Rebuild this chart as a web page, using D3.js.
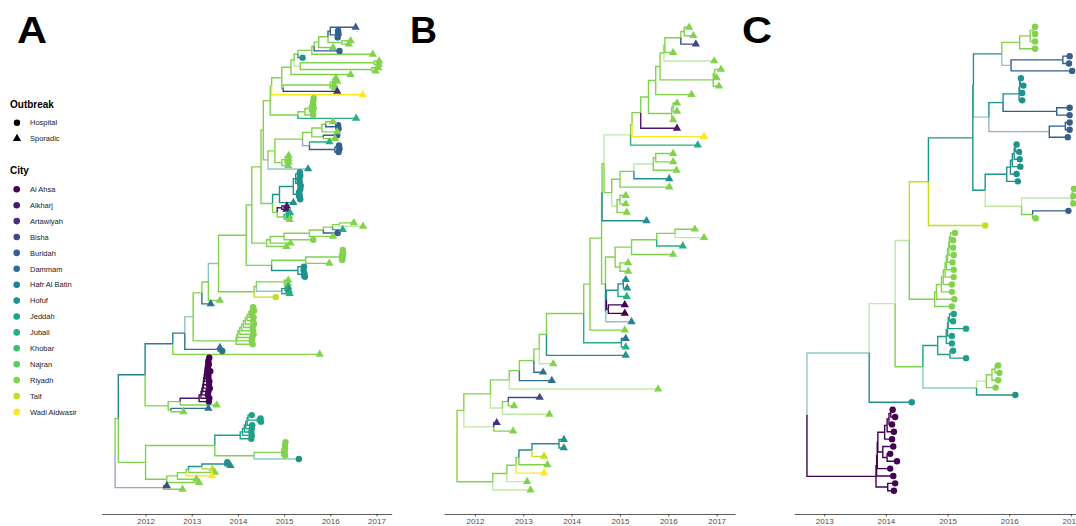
<!DOCTYPE html>
<html><head><meta charset="utf-8">
<script src="https://cdn.jsdelivr.net/npm/d3@7"></script>
<style>
body{margin:0;background:#fff}
svg{display:block}
text{font-family:"Liberation Sans",Arial,Helvetica,sans-serif}
</style>
</head><body>
<svg id="chart" width="1076" height="526"></svg>
<script>
// ---------------- data ----------------
const cities = ["Al Ahsa","Alkharj","Artawiyah","Bisha","Buridah","Dammam","Hafr Al Batin","Hofuf","Jeddah","Jubail","Khobar","Najran","Riyadh","Taif","Wadi Aldwasir"];
const cityCodes = ["AH","AK","AR","BI","BU","DA","HB","HO","JE","JU","KH","NA","RI","TA","WA"];
const outbreaks = ["Hospital","Sporadic"];
const yearTicksA = [2012,2013,2014,2015,2016,2017];
const yearTicksB = [2012,2013,2014,2015,2016,2017];
const yearTicksC = [2013,2014,2015,2016,2017];

// Trees: "(child,child)CITY:year" ; tips "CITY.outbreak:year" ; "*" = low-support (pale) branch
// ---- Panel A subtrees ----
const A_C1a = "(((BU.s:2016.55,((BU.h:2016.17,BU.h:2016.18)BU:2016.15,BU.h:2016.16)BU:2016.12)BU:2016.0,(RI.s:2016.44,RI.s:2016.4)RI:2016.25)RI:2015.95,RI.s:2016.06)RI:2015.75";
const A_C1 = `(((((${A_C1a},BU.h:2016.2)RI:2015.65,RI.s:2016.92)RI:2015.6,HO.h:2015.4)RI:2015.3,((RI.s:2017.06,RI.s:2017.05)RI:2016.95,(RI.s:2017.04,RI.s:2016.98)RI:2016.9)RI*:2015.35)RI:2015.22,RI.s:2016.44)RI:2015.15`;
const A_C2 = "((((RI.s:2016.12,RI.s:2016.15)RI:2016.1,RI.s:2016.08)RI:2016.05,RI.s:2016.1)RI:2016.0,AR.s:2016.15)RI:2014.98";
const A_C3 = "((((((RI.h:2015.64,RI.h:2015.63)RI:2015.61,RI.h:2015.63)RI:2015.6,RI.h:2015.64)RI:2015.58,RI.h:2015.62)RI:2015.55,RI.h:2015.63)RI:2015.45,JU.s:2016.56)RI:2015.3";
const A_U1 = `(((${A_C1},${A_C2})RI:2014.95,WA.s:2016.7)RI:2014.73,${A_C3})RI:2014.7`;
const A_C4a = "(((RI.s:2016.06,(BU.h:2016.17,BU.h:2016.18)BU:2016.13)RI:2015.9,RI.s:2016.15)RI:2015.82,(BU.h:2016.15,RI.s:2016.1)RI:2015.85)RI:2015.6";
const A_C4b = "(JU.s:2015.98,((BU.h:2016.19,BU.h:2016.2)BU:2016.15,BU.h:2016.18)BU:2016.1)BU*:2015.55";
const A_C4 = `(((${A_C4a},${A_C4b})RI:2015.4,(((RI.s:2015.1,RI.s:2015.1)RI:2015.05,RI.s:2015.1)RI:2015.02,RI.s:2015.09)RI:2014.95)RI:2014.8,HO*.s:2015.52)RI:2014.65`;
const A_teal9 = "(((HO.h:2015.34,HO.h:2015.35)HO:2015.3,((HO.h:2015.33,HO.h:2015.34)HO:2015.31,HO.h:2015.36)HO:2015.3)HO:2015.25,((HO.h:2015.35,HO.h:2015.33)HO:2015.3,(HO.h:2015.34,HO.h:2015.35)HO:2015.3)HO:2015.27)HO:2015.2";
const A_C6 = `((${A_teal9},HO.s:2015.2)HO:2014.9,((AK.s:2015.06,AK.s:2015.05)AK:2014.95,((JU.s:2015.13,JU.s:2015.1)JU:2015.05,RI.s:2015.12)RI:2015.0)RI:2014.85)RI:2014.75`;
const A_C7 = "(((((((RI.s:2016.51,RI*.s:2016.71)RI:2016.2,JU.s:2016.27)RI:2016.05,BU.h:2016.16)RI:2015.85,RI.s:2016.06)RI:2015.55,RI.h:2015.63)RI:2015.0,RI.s:2015.14)RI:2014.7,RI.s:2015.05)RI:2014.62";
const A_C8 = "(((((RI.h:2016.27,RI.h:2016.28)RI:2016.25,RI.h:2016.27)RI:2016.22,RI.h:2016.26)RI:2016.2,RI.s:2015.98)RI:2015.47,(HO.h:2015.43,((HO.h:2015.42,HO.h:2015.44)HO:2015.4,HO.h:2015.45)HO:2015.38)HO:2015.3)RI:2014.73";
const A_low = "(((RI.s:2015.09,RI.s:2015.08)RI:2015.0,((JU.s:2015.09,HO.s:2015.1)HO:2015.02,JU.s:2015.12)HO*:2014.95)RI:2014.4,TA.h:2014.82)RI:2014.35";
const A_up = `(((((((${A_U1},${A_C4})RI:2014.55,${A_C6})RI:2014.5,${A_C7})RI:2014.3,${A_C8})RI:2014.18,${A_low})HB*:2013.58,RI.s:2013.61)RI:2013.36,DA.s:2013.41)RI:2013.22`;
const A_gc12 = "(((((((((((RI.h:2014.33,RI.h:2014.35)RI:2014.3,RI.h:2014.31)RI:2014.27,RI.h:2014.34)RI:2014.24,RI.h:2014.33)RI:2014.2,RI.h:2014.35)RI:2014.16,RI.h:2014.32)RI:2014.12,RI.h:2014.33)RI:2014.08,RI.h:2014.34)RI:2014.04,RI.h:2014.31)RI:2014.0,RI.h:2014.3)RI:2013.98,RI.h:2014.32)RI:2013.96";
const A_218 = `(((${A_up},${A_gc12})HB*:2013.03,(DA.s:2013.61,DA.h:2013.66)DA:2013.57)HB:2012.85,RI.s:2015.77)HB:2012.59`;
const A_ahsa = "(((((((((((((AH.h:2013.38,AH.h:2013.36)AH:2013.33,AH.h:2013.37)AH:2013.32,AH.h:2013.35)AH:2013.31,AH.h:2013.4)AH:2013.3,AH.h:2013.36)AH:2013.29,AH.h:2013.36)AH:2013.28,AH.h:2013.38)AH:2013.27,AH.h:2013.37)AH:2013.26,AH.h:2013.39)AH:2013.25,AH.h:2013.36)AH:2013.24,AH.h:2013.35)AH:2013.22,AH.h:2013.38)AH:2013.2,AH.h:2013.37)AK:2013.16";
const A_205 = `((${A_ahsa},RI.s:2013.54)RI:2012.75,(DA.s:2013.36,RI.s:2012.82)RI:2012.55)RI:2012.49`;
const A_je = "((((((JE.h:2014.3,(JE.h:2014.49,JE.h:2014.5)JE:2014.42)JE:2014.22,JE.h:2014.31)JE:2014.2,JE.h:2014.3)JE:2014.17,JE.h:2014.29)JE:2014.14,JE.h:2014.3)JE:2014.1,JE.h:2014.29)JE:2014.05";
const A_gc5 = "((((RI.h:2015.03,RI.h:2015.02)RI:2015.0,RI.h:2015.02)RI:2014.98,RI.h:2015.01)RI:2014.97,RI.h:2015.02)RI:2014.95";
const A_265 = "(((HO.h:2013.77,HO.s:2013.84)HO:2013.72,TA.s:2013.45)HO:2013.22,RI.s:2013.5)RI:2012.93";
const A_137 = `((${A_je},(${A_gc5},HO*.h:2015.32)RI:2014.35)RI:2013.5,(((${A_265},WA.s:2013.44)RI:2012.88,RI.s:2013.1)RI:2012.69,RI.s:2013.16)RI:2012.46)RI:2012.0`;
const treeA = `(((${A_218},${A_205})HB:2011.99,${A_137})RI:2011.41,(BI.s:2012.46,RI.s:2012.8)BI*:2012.39)RI:2011.34`;

// ---- Panel B subtrees ----
const B_672 = "((((RI.s:2016.43,RI.s:2016.52)RI:2016.33,BI.s:2016.57)RI:2016.26,RI.s:2016.1)RI:2015.93,RI*.s:2016.95)RI:2015.91";
const B_648 = `((${B_672},((RI.s:2017.09,RI.s:2017.0)RI:2016.96,RI.s:2017.05)RI:2016.93)RI:2015.83,RI.s:2016.48)RI:2015.74`;
const B_572 = `((((${B_648},((RI.s:2016.18,RI.s:2016.18)RI:2016.1,RI.s:2016.1)RI:2016.07)RI:2015.59,AK.s:2016.18)RI:2015.43,WA.s:2016.74)RI:2015.25,JU.s:2016.61)RI*:2015.22`;
const B_80 = "(((((RI.s:2016.1,RI.s:2016.1)RI:2015.74,RI.s:2016.17)RI*:2015.69,HO.s:2016.02)RI:2015.29,RI.s:2016.02)RI:2015.0,((RI.s:2015.12,RI.s:2015.12)RI:2015.0,RI.s:2015.14)RI*:2014.94)RI:2014.83";
const B_525 = "((((RI.s:2016.55,RI*.s:2016.74)RI:2016.14,JU.s:2016.3)RI:2015.76,RI.s:2016.1)RI:2015.24,(RI.s:2015.17,RI.s:2015.17)RI:2015.0)RI:2014.9";
const B_498 = "((((HO.s:2015.12,HO.s:2015.15)HO:2015.07,JU.s:2015.14)HO:2014.96,(AH.s:2015.1,AH.s:2015.1)AH:2014.76)HO:2014.72,HB*.s:2015.24)HO:2014.71";
const B_Xb = `(((${B_572},${B_80})RI:2014.67,HO.s:2015.55)RI:2014.63,(${B_525},${B_498})RI:2014.7)RI:2014.62`;
const B_208 = `(((((${B_Xb},RI.s:2015.1)RI:2014.38,(DA.s:2015.12,JU.s:2015.12)JU:2015.03)RI:2014.25,HO.s:2015.12)RI:2013.48,RI*.s:2013.62)RI:2013.33,DA.s:2013.41)RI:2013.22`;
const B_72 = `((((${B_208},DA.s:2013.59)RI:2012.92,RI*.s:2015.79)RI:2012.71,((BI.s:2013.34,RI.s:2012.81)RI:2012.69,RI*.s:2013.54)RI*:2012.57)RI:2012.32,(AR.s:2012.45,RI.s:2012.79)RI*:2012.39)RI:2011.77`;
const B_158 = "((((((HO.s:2013.84,HO.s:2013.84)HO:2013.74,TA.s:2013.43)HO:2013.18,RI.s:2013.5)RI:2012.91,WA.s:2013.43)RI:2012.85,RI*.s:2013.08)RI:2012.66,RI*.s:2013.15)RI:2012.37";
const treeB = `(${B_72},${B_158})RI:2011.63`;

// ---- Panel C subtrees ----
const C_N6 = "((((RI.h:2016.42,RI.h:2016.42)RI:2016.39,RI.h:2016.42)RI:2016.34,RI.h:2016.42)RI:2016.17,((BU.h:2016.98,BU.h:2016.97)BU:2016.87,BU.h:2017.02)HO*:2016.03)HO:2015.88";
const C_597 = "(((((HO.h:2016.19,HO.h:2016.23)HO:2016.18,HO.h:2016.21)HO:2016.17,HO.h:2016.21)HO:2016.16,(BU.h:2016.98,BU.h:2016.98)BU:2016.77)HO:2015.9,((BU.h:2016.98,BU.h:2016.98)BU:2016.91,BU.h:2016.95)BU*:2016.65)HO*:2015.67";
const C_585 = "((((((HO.h:2016.12,HO.h:2016.16)HO:2016.1,HO.h:2016.17)HO:2016.08,HO.h:2016.18)HO:2016.05,HO.h:2016.12)HO:2016.02,HO.h:2016.14)HO:2015.96,(((RI.h:2017.05,RI.h:2017.04)RI:2017.03,RI.h:2017.04)RI*:2017.02,(BU.h:2016.96,RI.h:2016.43)RI:2016.38)RI*:2016.2)HO:2015.61";
const C_ladder = "((((((((((RI.h:2015.12,RI.h:2015.09)RI:2015.05,RI.h:2015.09)RI:2015.03,RI.h:2015.1)RI:2015.02,RI.h:2015.08)RI:2015.0,RI.h:2015.1)RI:2014.98,RI.h:2015.1)RI:2014.96,RI.h:2015.07)RI:2014.93,RI.h:2015.07)RI:2014.9,RI.h:2015.11)RI:2014.82,RI.h:2015.07)RI:2014.79";
const C_N3 = `((((${C_N6},${C_597})HO:2015.42,${C_585})HO:2015.41,TA.h:2015.61)TA:2014.69,${C_ladder})RI*:2014.38`;
const C_N9 = "((((((JE.h:2015.1,JE.h:2015.09)JE:2015.03,JE.h:2015.3)JE:2015.01,JE.h:2015.07)JE:2015.0,JE.h:2015.07)JE:2014.98,(JE.h:2015.09,JE.h:2015.3)JE:2015.04)JE:2014.84,((((RI.h:2015.82,RI.h:2015.84)RI:2015.77,RI.h:2015.82)RI:2015.72,RI.h:2015.78)RI*:2015.63,HO.h:2016.1)HO*:2015.47)RI:2014.6";
const C_ahsa = "((((((((AH.h:2014.11,AH.h:2014.15)AH:2014.08,AH.h:2014.1)AH:2014.05,AH.h:2014.13)AH:2014.02,AH.h:2014.1)AH:2013.98,(AH.h:2014.12,(AH.h:2014.07,AH.h:2014.18)AH:2014.02)AH:2013.95)AH:2013.87,AH.h:2014.07)AH:2013.86,AH.h:2014.12)AH:2013.85,(AH.h:2014.15,AH.h:2014.13)AH:2014.03)AH:2013.84";
const treeC = `(((${C_N3},${C_N9})RI*:2014.15,HO.h:2014.42)HO*:2013.73,${C_ahsa})HO:2012.72`;

// ---------------- helpers ----------------
function parseTree(str){
  str = str.replace(/\s+/g,"");
  let i = 0;
  function node(){
    const n = {};
    if (str[i] === "("){
      i++;
      n.children = [node()];
      while (str[i] === ","){ i++; n.children.push(node()); }
      if (str[i] !== ")") throw new Error("parse error at "+i);
      i++;
    }
    let lab = "";
    while (i < str.length && str[i] !== "," && str[i] !== ")") lab += str[i++];
    const parts = lab.split(":");
    const cs = parts[0].split(".");
    n.pale = cs[0].endsWith("*");
    n.city = cs[0].replace("*","");
    n.outbreak = cs[1]; n.year = +parts[1];
    return n;
  }
  const r = node();
  if (i !== str.length) throw new Error("trailing at "+i);
  return r;
}

// viridis positions chosen to match the figure's palette
const palettePos = [0,0.07,0.14,0.22,0.3,0.37,0.43,0.5,0.57,0.63,0.69,0.75,0.81,0.91,1];
const colorOf = d3.scaleOrdinal()
  .domain(cityCodes)
  .range(palettePos.map(t=>d3.interpolateViridis(t)));

const svg = d3.select("#chart");

const panels = [
  {label:"A", tree:treeA, ticks:yearTicksA, xDomain:[2011.05,2017.33], xRange:[101.7,391.7], yRange:[27.3,489.3], labelX:17, labelW:30},
  {label:"B", tree:treeB, ticks:yearTicksB, xDomain:[2011.36,2017.38], xRange:[444,735], yRange:[27.3,490], labelX:410, labelW:27},
  {label:"C", tree:treeC, ticks:yearTicksC, xDomain:[2012.51,2017.31], xRange:[794,1090], yRange:[26.7,490.7], labelX:742, labelW:30}
];
const axisY = 514;
const tri = d3.symbol().type(d3.symbolTriangle).size(30)();

panels.forEach(p=>{
  let root;
  try { root = d3.hierarchy(parseTree(p.tree)); }
  catch(e){ console.error(p.label, e.message); return; }
  let k = 0;
  root.eachAfter(d=>{
    if (!d.children) d.yi = k++;
    else d.yi = d3.mean(d.children, c=>c.yi);
  });
  const x = d3.scaleLinear().domain(p.xDomain).range(p.xRange);
  const y = d3.scaleLinear().domain([0,k-1]).range(p.yRange);
  const g = svg.append("g");

  g.append("g").selectAll("path").data(root.descendants().filter(d=>d.parent))
    .join("path")
    .attr("d", d=>`M${x(d.parent.data.year)},${y(d.parent.yi)}V${y(d.yi)}H${x(d.data.year)}`)
    .attr("fill","none")
    .attr("stroke", d=>colorOf(d.data.city))
    .attr("stroke-opacity", d=>d.data.pale ? 0.5 : 1)
    .attr("stroke-width",1.4);

  const leaves = root.leaves();
  g.append("g").selectAll("circle").data(leaves.filter(d=>d.data.outbreak==="h"))
    .join("circle")
    .attr("cx", d=>x(d.data.year)).attr("cy", d=>y(d.yi)).attr("r",3.2)
    .attr("fill", d=>colorOf(d.data.city));
  g.append("g").selectAll("path").data(leaves.filter(d=>d.data.outbreak==="s"))
    .join("path")
    .attr("d", tri)
    .attr("transform", d=>`translate(${x(d.data.year)},${y(d.yi)})`)
    .attr("fill", d=>colorOf(d.data.city));

  const ax = g.append("g").attr("transform",`translate(0,${axisY})`)
    .call(d3.axisBottom(x).tickValues(p.ticks).tickFormat(d3.format("d")).tickSize(2.5).tickSizeOuter(0).tickPadding(2));
  ax.select(".domain").attr("stroke","#333").attr("stroke-width",0.8);
  ax.selectAll(".tick line").attr("stroke","#333").attr("stroke-width",0.8);
  ax.selectAll(".tick text").attr("fill","#4d4d4d").style("font-size","8px");

  svg.append("text").attr("x",p.labelX).attr("y",42.5)
    .attr("textLength",p.labelW).attr("lengthAdjust","spacingAndGlyphs")
    .style("font-size","36px").style("font-weight","bold").attr("fill","#000").text(p.label);
});

// ---------------- legend ----------------
const leg = svg.append("g");
leg.append("text").attr("x",10).attr("y",108).style("font-size","10px").style("font-weight","bold").text("Outbreak");
leg.selectAll(".ob").data(outbreaks).join("g").attr("class","ob")
  .attr("transform",(d,i)=>`translate(17,${122.7+i*15.8})`)
  .each(function(d,i){
    const s = d3.select(this);
    if (i===0) s.append("circle").attr("r",3.2).attr("fill","#000");
    else s.append("path").attr("d",tri).attr("fill","#000");
    s.append("text").attr("x",13).attr("y",2.7).style("font-size","7.5px").attr("fill","#222").text(d);
  });
leg.append("text").attr("x",10).attr("y",173.5).style("font-size","10px").style("font-weight","bold").text("City");
leg.selectAll(".ct").data(cities).join("g").attr("class","ct")
  .attr("transform",(d,i)=>`translate(16.7,${189.3+i*15.9})`)
  .each(function(d,i){
    const s = d3.select(this);
    s.append("circle").attr("r",3.3).attr("fill",colorOf(cityCodes[i]));
    s.append("text").attr("x",13.3).attr("y",2.7).style("font-size","7.5px").attr("fill","#222").text(d);
  });
</script>
</body></html>
